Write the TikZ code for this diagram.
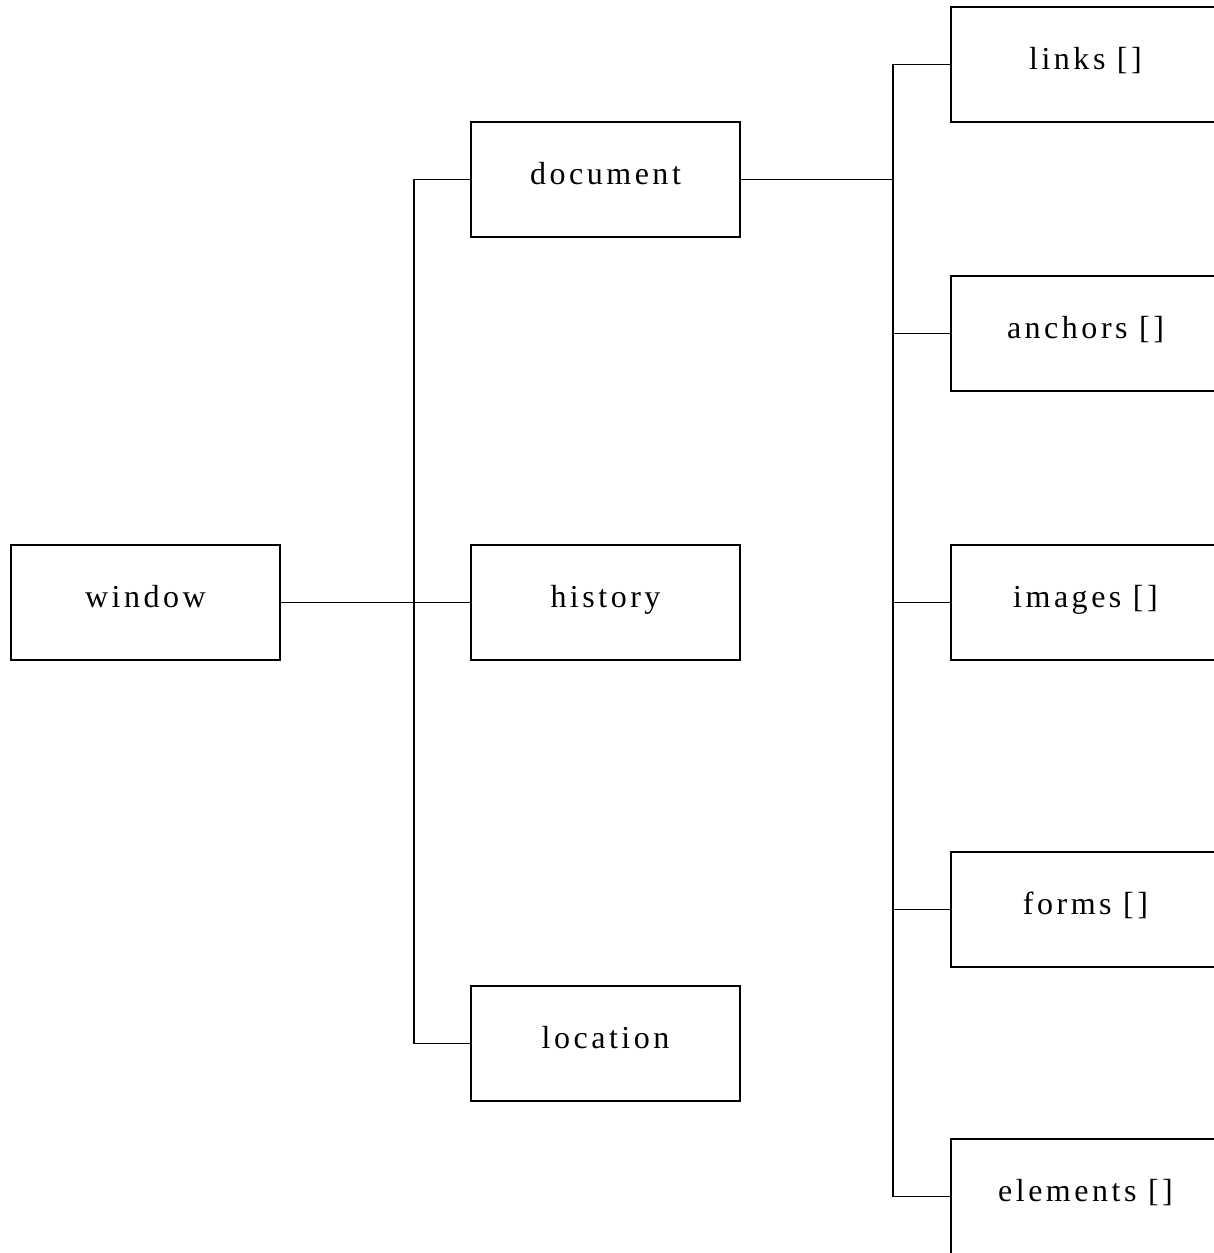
\documentclass[tikz,border=0pt]{standalone}
\usepackage{fontspec}
\setmainfont{Liberation Serif}[LetterSpace=11]
\begin{document}
\begin{tikzpicture}[x=1pt,y=-1pt,
  objbox/.style={draw,line width=1.5pt,minimum width=269pt,minimum height=115pt,
    inner sep=0pt,font=\fontsize{32}{36}\selectfont,text height=23pt,text depth=14pt},
  link/.style={line width=1.5pt}]
\useasboundingbox (0,0) rectangle (1214,1253);
\begin{scope}
\clip (0,0) rectangle (1214,1253);
\node[objbox] (window) at (145.5,602.5) {window};
\node[objbox] (document) at (605.5,179.5) {document};
\node[objbox] (history) at (605.5,602.5) {history};
\node[objbox] (location) at (605.5,1043.5) {location};
\node[objbox] (links) at (1085.5,64.5) {links []};
\node[objbox] (anchors) at (1085.5,333.5) {anchors []};
\node[objbox] (images) at (1085.5,602.5) {images []};
\node[objbox] (forms) at (1085.5,909.5) {forms []};
\node[objbox] (elements) at (1085.5,1196.5) {elements []};
\coordinate (j1) at (414,602.5);
\coordinate (j2) at (893,179.5);
\draw[link] (window.east) -- (history.west);
\draw[link] (document.west) -| (j1) |- (location.west);
\draw[link] (document.east) -- (j2);
\draw[link] (links.west) -| (j2) |- (elements.west);
\draw[link] (anchors.west) -- (anchors.west -| j2);
\draw[link] (images.west) -- (images.west -| j2);
\draw[link] (forms.west) -- (forms.west -| j2);
\end{scope}
\end{tikzpicture}
\end{document}
